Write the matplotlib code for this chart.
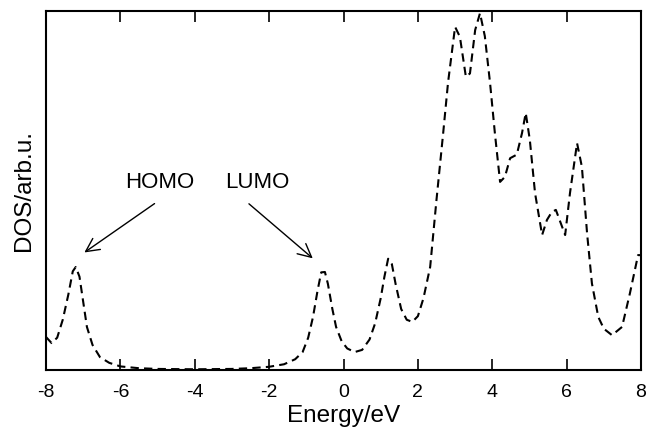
import matplotlib
matplotlib.use("Agg")
import matplotlib.pyplot as plt

energy = [-8.0, -7.85, -7.7, -7.55, -7.4, -7.28, -7.2, -7.1, -7.0, -6.9, -6.75, -6.55,
          -6.3, -6.0, -5.5, -5.0, -4.0, -3.0, -2.5, -2.0, -1.6, -1.3, -1.1, -0.95,
          -0.82, -0.7, -0.6, -0.5, -0.42, -0.3, -0.2, -0.05, 0.1, 0.3, 0.5, 0.7,
          0.85, 1.0, 1.1, 1.2, 1.3, 1.4, 1.55, 1.7, 1.85, 2.0, 2.15, 2.33, 2.5,
          2.68, 2.81, 3.0, 3.13, 3.29, 3.4, 3.54, 3.67, 3.8, 3.94, 4.07, 4.21,
          4.34, 4.48, 4.66, 4.8, 4.9, 5.01, 5.15, 5.34, 5.47, 5.6, 5.71, 5.96,
          6.09, 6.28, 6.41, 6.55, 6.68, 6.85, 7.0, 7.22, 7.49, 7.7, 7.92, 8.0]
dos = [0.092, 0.075, 0.09, 0.14, 0.21, 0.275, 0.287, 0.26, 0.19, 0.12, 0.07, 0.036,
       0.02, 0.01, 0.005, 0.003, 0.002, 0.003, 0.005, 0.009, 0.016, 0.03, 0.05, 0.09,
       0.148, 0.22, 0.272, 0.273, 0.24, 0.17, 0.12, 0.08, 0.06, 0.05, 0.056, 0.085,
       0.13, 0.2, 0.26, 0.31, 0.295, 0.24, 0.17, 0.14, 0.134, 0.15, 0.2, 0.287, 0.474,
       0.66, 0.8, 0.956, 0.928, 0.817, 0.826, 0.947, 0.994, 0.93, 0.8, 0.66, 0.524,
       0.538, 0.59, 0.6, 0.66, 0.716, 0.641, 0.493, 0.376, 0.418, 0.44, 0.446, 0.376,
       0.493, 0.632, 0.566, 0.38, 0.241, 0.148, 0.115, 0.097, 0.12, 0.213, 0.32, 0.32]

xticks = [-8, -6, -4, -2, 0, 2, 4, 6, 8]

plt.rcParams['font.family'] = ['Liberation Sans', 'DejaVu Sans']

fig = plt.figure(figsize=(6.49, 4.32), dpi=100)
ax = fig.add_axes([0.0709, 0.1435, 0.9168, 0.831])
ax.plot(energy, dos, color='black', lw=1.5, linestyle=(0, (4, 2.5)))
ax.set_xlim(-8, 8)
ax.set_ylim(0, 1)
ax.set_xticks(xticks)
ax.set_xticklabels([str(t) for t in xticks])
ax.set_yticks([])
ax.tick_params(axis='x', direction='in', length=8, width=1.2, top=True,
               labelsize=14, pad=10)
for s in ax.spines.values():
    s.set_linewidth(1.5)
ax.set_xlabel('Energy/eV', fontsize=17.5, labelpad=3)
ax.set_ylabel('DOS/arb.u.', fontsize=17.5, labelpad=8)

arrow = dict(arrowstyle='->', color='black', lw=1.0, mutation_scale=24)
ax.annotate('', xy=(-7.03, 0.323), xytext=(-5.02, 0.468), arrowprops=arrow)
ax.annotate('', xy=(-0.77, 0.306), xytext=(-2.6, 0.468), arrowprops=arrow)
ax.text(-4.93, 0.521, 'HOMO', ha='center', va='center', fontsize=16)
ax.text(-2.33, 0.521, 'LUMO', ha='center', va='center', fontsize=16)

fig.savefig('out.png', dpi=100)
